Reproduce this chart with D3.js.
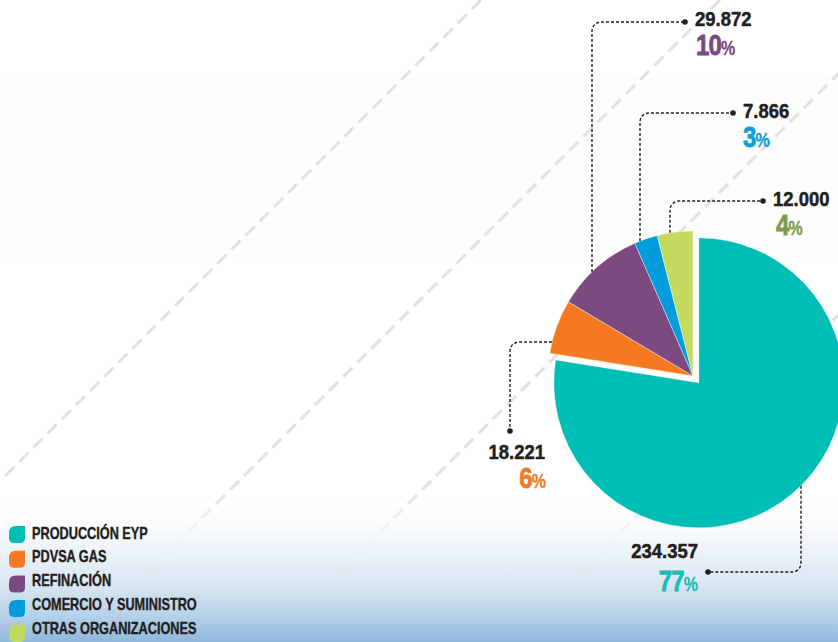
<!DOCTYPE html>
<html>
<head>
<meta charset="utf-8">
<script src="https://cdn.jsdelivr.net/npm/d3@7"></script>
<style>
  html, body { margin: 0; padding: 0; background: #fff; }
  svg { display: block; }
  text { font-family: "Liberation Sans", Arial, sans-serif; font-weight: bold; }
</style>
</head>
<body>
<svg id="chart" width="838" height="642"></svg>
<script>
// ---------- DATA ----------
const categories = ["PRODUCCIÓN EYP", "PDVSA GAS", "REFINACIÓN", "COMERCIO Y SUMINISTRO", "OTRAS ORGANIZACIONES"];
const values = [234357, 18221, 29872, 7866, 12000];
const pctLabels = ["77", "6", "10", "3", "4"];

// ---------- STYLE / LAYOUT ----------
const sliceColors = ["#00bdb6", "#f47920", "#7b4a80", "#009ddc", "#c4da5e"];
const pctColors   = ["#1bbcb4", "#f47920", "#7b4a85", "#0aa0dc", "#7c9a48"];
const W = 838, H = 642;
const cx = 693, cy = 376, R = 145;
const explode = [9, 0, 0, 0, 0];

// annotation layout per category: corner of leader, dot, leg direction, label anchor
const annot = [
  { corner: [801, 572], dot: [708, 572], leg: "v", anchor: "end",   nx: 698, ny: 558, px: 698, py: 591 },
  { corner: [510, 342], dot: [510, 431], leg: "h", anchor: "end",   nx: 545, ny: 459, px: 546, py: 488 },
  { corner: [592, 22],  dot: [685, 22],  leg: "v", anchor: "start", nx: 695, ny: 26,  px: 696, py: 55 },
  { corner: [640, 113], dot: [733, 113], leg: "v", anchor: "start", nx: 743, ny: 118, px: 743, py: 147 },
  { corner: [670, 201], dot: [763, 201], leg: "v", anchor: "start", nx: 773, ny: 206, px: 776, py: 235 }
];
const bgLines = [481, 720, 912, 1153];

const svg = d3.select("#chart");
const defs = svg.append("defs");
const grad = defs.append("linearGradient").attr("id", "sky")
  .attr("x1", 0).attr("y1", 0).attr("x2", 0).attr("y2", 1);
[[0, "#ffffff", 0], [0.3, "#f4f7fb", 0.9], [0.62, "#dae7f2", 1], [0.82, "#b8d2e9", 1], [1, "#8fb8dc", 1]]
  .forEach(s => grad.append("stop").attr("offset", s[0]).attr("stop-color", s[1]).attr("stop-opacity", s[2]));

svg.append("rect").attr("width", W).attr("height", H).attr("fill", "#ffffff");
svg.append("rect").attr("x", 0).attr("y", 77).attr("width", W).attr("height", 180).attr("fill", "#fdfdfd");

// background diagonal dashed lines
svg.append("g").selectAll("line").data(bgLines).join("line")
  .attr("x1", d => d).attr("y1", 0).attr("x2", 0).attr("y2", d => d)
  .attr("stroke", "#e2e2e2").attr("stroke-width", 3)
  .attr("stroke-dasharray", "13 7");

svg.append("rect").attr("x", 0).attr("y", 490).attr("width", W).attr("height", H - 490).attr("fill", "url(#sky)");

// ---------- PIE ----------
const pie = d3.pie().sort(null).value(d => d)(values);
const arc = d3.arc().innerRadius(0).outerRadius(R);

const offsets = pie.map((p, i) => {
  const mid = (p.startAngle + p.endAngle) / 2;
  return [Math.sin(mid) * explode[i], -Math.cos(mid) * explode[i]];
});

svg.append("g").attr("transform", `translate(${cx},${cy})`)
  .selectAll("path").data(pie).join("path")
  .attr("d", arc)
  .attr("transform", (d, i) => `translate(${offsets[i][0]},${offsets[i][1]})`)
  .attr("fill", (d, i) => sliceColors[i])
  .attr("stroke", "#ffffff").attr("stroke-width", 0.4);

// ---------- LEADERS ----------
const gLead = svg.append("g");
annot.forEach((a, i) => {
  const ox = cx + offsets[i][0], oy = cy + offsets[i][1];
  let edge;
  if (a.leg === "v") {
    const dx = a.corner[0] - ox;
    const dy = Math.sqrt(R * R - dx * dx);
    edge = [a.corner[0], a.corner[1] < oy ? oy - dy : oy + dy];
  } else {
    const dy = a.corner[1] - oy;
    const dx = Math.sqrt(R * R - dy * dy);
    edge = [a.corner[0] < ox ? ox - dx : ox + dx, a.corner[1]];
  }
  const p = d3.path();
  p.moveTo(edge[0], edge[1]);
  p.arcTo(a.corner[0], a.corner[1], a.dot[0], a.dot[1], 9);
  p.lineTo(a.dot[0], a.dot[1]);
  gLead.append("path").attr("d", p.toString())
    .attr("fill", "none").attr("stroke", "#231f20").attr("stroke-width", 1.4)
    .attr("stroke-dasharray", "3 2");
  gLead.append("circle").attr("cx", a.dot[0]).attr("cy", a.dot[1]).attr("r", 2.8).attr("fill", "#231f20");
});

// ---------- LABELS ----------
const fmt = d3.formatLocale({ decimal: ",", thousands: ".", grouping: [3], currency: ["", ""] }).format(",");
const gLab = svg.append("g");
annot.forEach((a, i) => {
  gLab.append("text")
    .attr("transform", `translate(${a.nx},${a.ny}) scale(0.9,1)`)
    .attr("text-anchor", a.anchor)
    .attr("font-size", 20.5).attr("fill", "#231f20")
    .attr("stroke", "#231f20").attr("stroke-width", 0.5)
    .text(fmt(values[i]));
  const t = gLab.append("text")
    .attr("transform", `translate(${a.px},${a.py}) scale(0.8,1)`)
    .attr("text-anchor", a.anchor)
    .attr("fill", pctColors[i])
    .attr("stroke", pctColors[i]).attr("stroke-width", 0.8);
  t.append("tspan").attr("font-size", 30).attr("letter-spacing", -1).text(pctLabels[i]);
  t.append("tspan").attr("font-size", 20).attr("stroke-width", 0.3).text("%");
});

// ---------- LEGEND ----------
const legend = svg.append("g");
const mw = 16, mh = 17;
const marker = `M${mw},0 L${mw},${mh - 5} Q${mw},${mh} ${mw - 5},${mh} L5,${mh} Q0,${mh} 0,${mh - 5} L0,7 Q0,0 7,0 Z`;
categories.forEach((c, i) => {
  legend.append("path").attr("d", marker)
    .attr("transform", `translate(9,${526 + i * 24.7})`)
    .attr("fill", sliceColors[i]);
  legend.append("text")
    .attr("transform", `translate(32,${538.5 + i * 23.8}) scale(0.78,1)`)
    .attr("font-size", 16.3).attr("fill", "#231f20")
    .attr("stroke", "#231f20").attr("stroke-width", 0.4)
    .text(c);
});
</script>
</body>
</html>
